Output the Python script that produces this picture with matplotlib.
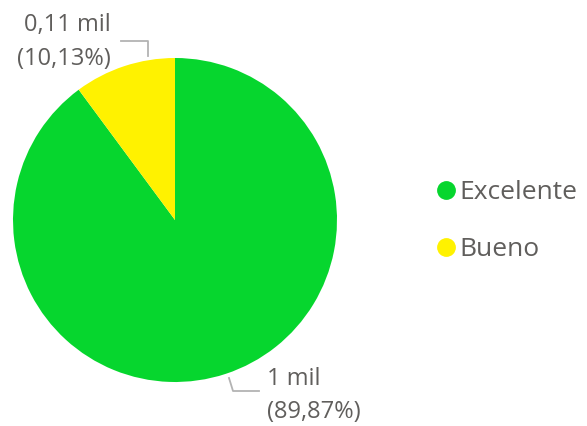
import matplotlib
matplotlib.use("Agg")
import matplotlib.pyplot as plt
from matplotlib.lines import Line2D

# datos
categorias = ["Excelente", "Bueno"]
valores = [976, 110]
colores = ["#06D62E", "#FFF200"]
etiquetas_valor = ["1 mil", "0,11 mil"]

total = sum(valores)
porcentajes = [v / total * 100 for v in valores]

W, H = 587, 426
fig = plt.figure(figsize=(W / 100, H / 100), dpi=100)
ax = fig.add_axes([0, 0, 1, 1])
ax.set_xlim(0, W)
ax.set_ylim(0, H)
ax.set_aspect("equal")
ax.axis("off")

cx, cy, r = 175, H - 220, 162
ax.pie(valores, colors=colores, startangle=90, counterclock=False,
       center=(cx, cy), radius=r, wedgeprops=dict(linewidth=0))
ax.set_xlim(0, W)
ax.set_ylim(0, H)

txt_col = "#605E5C"
line_col = "#B3B3B3"
fnt = "Open Sans"
fs = 17

def pct(p):
    return f"({p:.2f}%)".replace(".", ",")

# etiqueta Bueno (arriba izquierda)
ax.plot([148, 148, 121], [H - 56, H - 41, H - 41], color=line_col, lw=1.3)
ax.text(111, H - 25, etiquetas_valor[1], ha="right", va="center",
        fontsize=fs, color=txt_col, family=fnt)
ax.text(111, H - 59, pct(porcentajes[1]), ha="right", va="center",
        fontsize=fs, color=txt_col, family=fnt)

# etiqueta Excelente (abajo derecha)
ax.plot([229, 233, 259], [H - 378, H - 391, H - 391], color=line_col, lw=1.3)
ax.text(267, H - 379, etiquetas_valor[0], ha="left", va="center",
        fontsize=fs, color=txt_col, family=fnt)
ax.text(267, H - 412, pct(porcentajes[0]), ha="left", va="center",
        fontsize=fs, color=txt_col, family=fnt)

handles = [Line2D([], [], marker="o", linestyle="none", markersize=12.5,
                  markerfacecolor=c, markeredgecolor=c) for c in colores]
leg = ax.legend(handles, categorias, loc="center left",
                bbox_to_anchor=(440 / W, 1 - 221 / H), frameon=False,
                handlelength=0.45, handletextpad=0.3, labelspacing=1.2,
                borderaxespad=0, borderpad=0,
                prop={"family": fnt, "size": 19})
for t in leg.get_texts():
    t.set_color(txt_col)

fig.savefig("out.png", dpi=100, facecolor="white")
